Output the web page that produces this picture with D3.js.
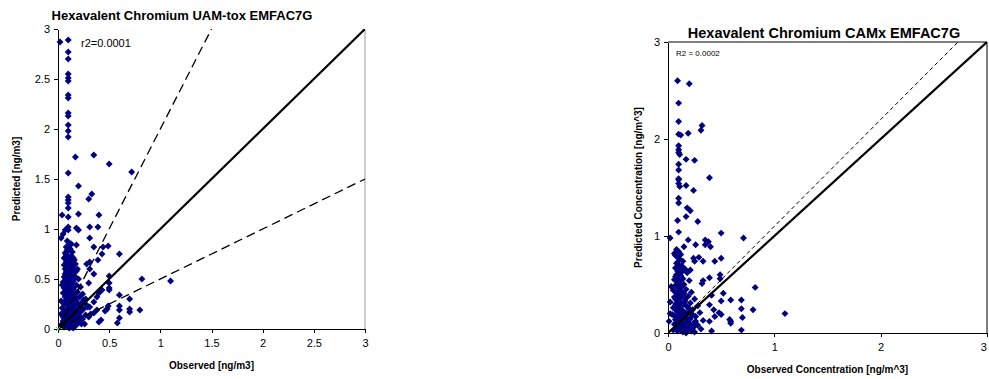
<!DOCTYPE html>
<html>
<head>
  <meta charset="utf-8">
  <title>Hexavalent Chromium scatter</title>
  <style>
    body { margin: 0; background: #fff; }
    svg { display: block; font-family: Arial, "Liberation Sans", sans-serif; }
    .axis path, .axis line { stroke: #000; shape-rendering: crispEdges; }
    .axis text { fill: #000; }
  </style>
  <script src="https://d3js.org/d3.v7.min.js"></script>
</head>
<body>
  <div id="chart"></div>
  <script>
    // UAM-tox EMFAC7G: [observed, predicted] in ng/m3
    const uamPoints = [
      [0.02,2.87],[0.10,2.89],[0.10,2.77],[0.10,2.70],[0.10,2.55],[0.10,2.51],[0.10,2.48],[0.10,2.34],
      [0.10,2.31],[0.10,2.16],[0.10,2.13],[0.10,2.04],[0.10,1.98],[0.10,1.92],
      [0.17,1.72],[0.35,1.74],[0.50,1.65],[0.72,1.57],[0.10,1.56],[0.20,1.43],[0.33,1.35],[0.30,1.30],
      [0.10,1.32],[0.10,1.29],[0.10,1.26],[0.10,1.21],[0.10,1.12],[0.04,1.14],[0.20,1.15],[0.40,1.14],
      [0.31,1.02],[0.39,1.02],[0.18,1.01],[0.20,0.99],[0.10,1.02],[0.10,0.99],[0.07,0.99],[0.05,0.95],
      [0.03,0.91],[0.31,0.91],[0.13,0.85],[0.18,0.84],[0.49,0.83],[0.35,0.82],[0.44,0.82],[0.60,0.75],
      [0.82,0.50],[1.10,0.48],[0.80,0.19],[0.70,0.30],[0.70,0.20],[0.70,0.17],[0.60,0.34],[0.60,0.23],
      [0.60,0.19],[0.60,0.11],[0.58,0.06],[0.50,0.53],[0.50,0.46],[0.50,0.41],[0.50,0.39],[0.49,0.23],
      [0.48,0.20],[0.46,0.18],[0.42,0.09],[0.40,0.07],[0.43,0.39],[0.40,0.36],[0.38,0.32],[0.35,0.27],
      [0.31,0.22],[0.35,0.16],[0.38,0.19],[0.28,0.24],[0.25,0.29],[0.30,0.46],[0.35,0.55],[0.31,0.60],
      [0.28,0.65],[0.31,0.67],[0.39,0.69],[0.43,0.75],
      [0.09,0.88],[0.11,0.86],[0.08,0.82],[0.12,0.80],[0.10,0.78],[0.14,0.77],[0.07,0.76],
      [0.08,0.74],[0.10,0.73],[0.12,0.72],[0.15,0.71],[0.09,0.70],[0.11,0.69],[0.13,0.68],[0.08,0.67],
      [0.10,0.66],[0.17,0.65],[0.12,0.64],[0.09,0.63],[0.14,0.62],[0.11,0.61],[0.07,0.60],[0.19,0.60],
      [0.10,0.59],[0.13,0.58],[0.08,0.57],[0.16,0.56],[0.11,0.55],[0.09,0.54],[0.14,0.53],[0.06,0.52],
      [0.12,0.51],[0.20,0.50],[0.10,0.50],[0.08,0.49],[0.15,0.48],[0.05,0.47],[0.11,0.46],[0.13,0.45],
      [0.07,0.45],[0.18,0.44],[0.04,0.44],[0.09,0.43],[0.22,0.42],[0.12,0.42],
      [0.06,0.41],[0.10,0.40],[0.15,0.40],[0.08,0.39],[0.13,0.38],[0.19,0.37],[0.11,0.36],[0.05,0.36],
      [0.24,0.35],[0.09,0.35],[0.16,0.34],[0.12,0.33],[0.07,0.32],[0.21,0.32],[0.10,0.31],[0.14,0.30],
      [0.27,0.30],[0.08,0.29],[0.18,0.28],[0.03,0.28],[0.11,0.27],[0.23,0.26],[0.13,0.26],[0.06,0.25],
      [0.16,0.24],[0.09,0.24],[0.20,0.23],[0.12,0.22],[0.29,0.22],[0.04,0.21],[0.15,0.21],[0.10,0.20],
      [0.25,0.20],[0.08,0.19],[0.18,0.18],[0.13,0.18],[0.22,0.17],[0.06,0.16],[0.11,0.16],[0.03,0.15],
      [0.16,0.15],[0.27,0.14],[0.09,0.14],[0.20,0.13],[0.14,0.12],[0.12,0.11],[0.07,0.11],[0.24,0.10],
      [0.17,0.10],[0.10,0.09],[0.05,0.08],[0.13,0.08],[0.21,0.07],[0.08,0.06],[0.15,0.06],[0.11,0.05],
      [0.18,0.04],[0.09,0.03],[0.13,0.02],[0.06,0.02],[0.11,0.01],[0.15,0.01],[0.03,0.04],[0.30,0.12],
      [0.26,0.05],[0.32,0.15],
      [0.06,0.71],[0.16,0.69],[0.14,0.66],[0.06,0.64],[0.18,0.58],[0.15,0.60],[0.07,0.55],[0.17,0.52],
      [0.13,0.49],[0.09,0.47],[0.16,0.43],[0.14,0.36],[0.17,0.31],[0.19,0.25],[0.14,0.27],[0.23,0.21],
      [0.17,0.19],[0.20,0.16],[0.12,0.15],[0.15,0.13],[0.22,0.12],[0.19,0.09],[0.16,0.08],[0.23,0.05],
      [0.07,0.18],[0.05,0.12],[0.09,0.10],[0.07,0.07],[0.12,0.29],[0.10,0.25],[0.13,0.34],[0.08,0.36],
      [0.11,0.41],[0.10,0.44],[0.12,0.55],[0.09,0.59],[0.11,0.65],[0.13,0.73],[0.09,0.79],[0.12,0.84]
    ];

    // CAMx EMFAC7G: [observed, predicted] in ng/m^3
    const camxPoints = [
      [0.09,2.60],[0.20,2.57],[0.10,2.37],[0.10,2.18],[0.32,2.14],[0.31,2.09],[0.10,2.05],[0.12,2.04],
      [0.19,2.06],[0.10,1.93],[0.10,1.89],[0.10,1.86],[0.11,1.84],[0.17,1.79],[0.25,1.78],[0.10,1.74],
      [0.10,1.68],[0.39,1.60],[0.10,1.59],[0.10,1.58],[0.10,1.54],[0.11,1.51],[0.17,1.52],[0.24,1.47],
      [0.10,1.39],[0.10,1.34],[0.18,1.29],[0.21,1.26],[0.17,1.20],[0.09,1.16],[0.28,1.15],[0.10,1.04],
      [0.50,1.03],[0.71,0.98],[0.02,0.98],[0.19,0.96],[0.35,0.96],[0.38,0.94],[0.26,0.91],[0.35,0.91],
      [0.40,0.89],[0.15,0.89],
      [0.07,0.80],[0.24,0.77],[0.29,0.78],[0.25,0.74],[0.33,0.74],[0.44,0.74],[0.50,0.77],[0.21,0.65],
      [0.03,0.48],[0.82,0.47],[1.10,0.20],[0.41,0.02],[0.69,0.03],[0.59,0.12],[0.69,0.25],[0.69,0.34],
      [0.59,0.34],[0.50,0.33],[0.52,0.41],[0.49,0.60],[0.49,0.56],[0.39,0.57],[0.33,0.54],[0.32,0.51],
      [0.41,0.39],[0.39,0.29],[0.43,0.24],[0.48,0.21],[0.39,0.12],[0.58,0.14],[0.59,0.10],[0.02,0.32],
      [0.02,0.20],[0.01,0.12],[0.22,0.05],[0.70,0.16],[0.80,0.24],[0.44,0.17],[0.50,0.19],
      [0.08,0.86],[0.10,0.84],[0.06,0.82],[0.12,0.81],[0.09,0.78],[0.11,0.76],[0.14,0.74],[0.08,0.72],
      [0.10,0.70],[0.13,0.69],[0.07,0.67],[0.16,0.66],[0.09,0.64],[0.11,0.63],[0.18,0.62],[0.08,0.60],
      [0.12,0.59],[0.10,0.57],[0.14,0.56],[0.06,0.55],[0.20,0.54],[0.09,0.53],[0.11,0.51],[0.15,0.50],
      [0.07,0.49],[0.13,0.48],[0.10,0.46],[0.17,0.45],[0.05,0.44],[0.12,0.43],[0.22,0.42],[0.08,0.41],
      [0.14,0.40],[0.10,0.39],[0.19,0.38],[0.06,0.37],[0.12,0.36],[0.25,0.35],[0.09,0.34],[0.16,0.33],
      [0.11,0.32],[0.21,0.31],[0.07,0.30],[0.14,0.29],[0.28,0.28],[0.10,0.28],[0.18,0.27],[0.05,0.26],
      [0.12,0.25],[0.23,0.24],[0.08,0.23],[0.15,0.22],[0.30,0.21],[0.11,0.21],[0.19,0.20],[0.04,0.19],
      [0.13,0.18],[0.26,0.17],[0.09,0.17],[0.16,0.16],[0.21,0.15],[0.07,0.14],[0.12,0.13],[0.33,0.13],
      [0.18,0.12],[0.10,0.11],[0.24,0.10],[0.06,0.09],[0.14,0.09],[0.28,0.08],[0.11,0.07],[0.19,0.06],
      [0.08,0.05],[0.16,0.04],[0.12,0.03],[0.22,0.02],[0.09,0.02],[0.14,0.01],[0.05,0.03],[0.31,0.04],
      [0.25,0.01],[0.17,0.00],
      [0.07,0.58],[0.13,0.63],[0.15,0.41],[0.17,0.36],[0.15,0.31],[0.20,0.25],[0.17,0.21],[0.14,0.19],
      [0.20,0.14],[0.16,0.10],[0.13,0.06],[0.21,0.09],[0.08,0.13],[0.06,0.18],[0.09,0.27],[0.07,0.35],
      [0.11,0.44],[0.09,0.49],[0.12,0.54],[0.10,0.61],[0.12,0.66],[0.09,0.72],[0.11,0.23],[0.13,0.15],
      [0.10,0.05],[0.18,0.02],[0.15,0.07],[0.24,0.06],[0.26,0.12],[0.23,0.19]
    ];

    const uamTicks = [0, 0.5, 1, 1.5, 2, 2.5, 3];
    const camxTicks = [0, 1, 2, 3];
    // reference lines y = slope * x
    const uamSlopes = [2, 1, 0.5];
    const camxSlopes = [1.1, 1];

    const svg = d3.select('#chart')
      .append('svg')
        .attr('width', 989)
        .attr('height', 379);

    // custom square diamond marker like the spreadsheet one
    const diamond = {
      draw(ctx, size) {
        const r = Math.sqrt(size / 2);
        ctx.moveTo(0, -r);
        ctx.lineTo(r, 0);
        ctx.lineTo(0, r);
        ctx.lineTo(-r, 0);
        ctx.closePath();
      }
    };

    function drawPanel(p) {
      const x = d3.scaleLinear().domain([0, 3]).range([p.left, p.right]);
      const y = d3.scaleLinear().domain([0, 3]).range([p.bottom, p.top]);
      const g = svg.append('g');

      g.append('clipPath').attr('id', p.id + '-clip')
        .append('rect')
          .attr('x', p.left).attr('y', p.top)
          .attr('width', p.right - p.left).attr('height', p.bottom - p.top);

      // plot area frame (right / top)
      if (p.frameTop) {
        g.append('line')
          .attr('x1', p.left).attr('x2', p.right)
          .attr('y1', p.top).attr('y2', p.top)
          .attr('stroke', p.frameColor).attr('stroke-width', 1);
      }
      g.append('line')
        .attr('x1', p.right).attr('x2', p.right)
        .attr('y1', p.top).attr('y2', p.bottom)
        .attr('stroke', p.frameColor).attr('stroke-width', 1);

      // points
      g.append('g')
        .selectAll('path')
        .data(p.points)
        .join('path')
          .attr('transform', d => `translate(${x(d[0])},${y(d[1])})`)
          .attr('d', d3.symbol(diamond, 24))
          .attr('fill', '#000080');

      // reference lines
      const lines = g.append('g').attr('clip-path', `url(#${p.id}-clip)`);
      p.slopes.forEach(s => {
        const solid = s === 1;
        lines.append('line')
          .attr('x1', x(0)).attr('y1', y(0))
          .attr('x2', x(3)).attr('y2', y(3 * s))
          .attr('stroke', '#000')
          .attr('stroke-width', solid ? 2.2 : p.dashWidth)
          .attr('stroke-dasharray', solid ? null : p.dash);
      });

      // axes
      g.append('g')
        .attr('class', 'axis')
        .attr('transform', `translate(0,${p.bottom})`)
        .call(d3.axisBottom(x).tickValues(p.ticks).tickSize(4).tickSizeOuter(0).tickPadding(6).tickFormat(d => String(d)))
        .call(a => a.selectAll('text').attr('font-size', 11).attr('font-family', 'Arial, "Liberation Sans", sans-serif'))
        // keep the last label inside the window
        .call(a => a.selectAll('text').filter(d => x(d) > 982).attr('text-anchor', 'end').attr('dx', '-0.05em'));
      g.append('g')
        .attr('class', 'axis')
        .attr('transform', `translate(${p.left},0)`)
        .call(d3.axisLeft(y).tickValues(p.ticks).tickSize(4).tickSizeOuter(0).tickPadding(4).tickFormat(d => String(d)))
        .call(a => a.selectAll('text').attr('font-size', 11).attr('font-family', 'Arial, "Liberation Sans", sans-serif'));

      // texts
      g.append('text')
        .attr('x', p.titleX).attr('y', p.titleY)
        .attr('text-anchor', 'middle')
        .attr('font-weight', 'bold')
        .attr('font-size', p.titleSize)
        .text(p.title);
      g.append('text')
        .attr('x', (p.left + p.right) / 2).attr('y', p.xLabelY)
        .attr('text-anchor', 'middle')
        .attr('font-weight', 'bold')
        .attr('font-size', 10)
        .text(p.xLabel);
      g.append('text')
        .attr('transform', `translate(${p.yLabelX},${(p.top + p.bottom) / 2}) rotate(-90)`)
        .attr('text-anchor', 'middle')
        .attr('font-weight', 'bold')
        .attr('font-size', 10)
        .text(p.yLabel);
      g.append('text')
        .attr('x', p.statX).attr('y', p.statY)
        .attr('font-size', p.statSize)
        .text(p.stat);

      return { x, y, g };
    }

    const left = drawPanel({
      id: 'uam', left: 58, right: 365, top: 29, bottom: 329,
      points: uamPoints, ticks: uamTicks, slopes: uamSlopes,
      dash: '9,5', dashWidth: 1.3, frameColor: '#9a9a9a', frameTop: false,
      title: 'Hexavalent Chromium UAM-tox EMFAC7G', titleX: 182, titleY: 20, titleSize: 13,
      xLabel: 'Observed [ng/m3]', xLabelY: 369,
      yLabel: 'Predicted [ng/m3]', yLabelX: 20,
      stat: 'r2=0.0001', statX: 81, statY: 47, statSize: 11
    });

    // small green marker sitting on the origin
    left.g.append('path')
      .attr('transform', `translate(${left.x(0)},${left.y(0)})`)
      .attr('d', 'M-2,-2L2,2M-2,2L2,-2')
      .attr('stroke', '#33dd66')
      .attr('stroke-width', 1);

    drawPanel({
      id: 'camx', left: 668, right: 987, top: 42, bottom: 333,
      points: camxPoints, ticks: camxTicks, slopes: camxSlopes,
      dash: '4,3', dashWidth: 1, frameColor: '#000', frameTop: true,
      title: 'Hexavalent Chromium CAMx EMFAC7G', titleX: 824, titleY: 38, titleSize: 14.5,
      xLabel: 'Observed Concentration [ng/m^3]', xLabelY: 373,
      yLabel: 'Predicted Concentration [ng/m^3]', yLabelX: 642,
      stat: 'R2 = 0.0002', statX: 676, statY: 56, statSize: 8
    });
  </script>
</body>
</html>
